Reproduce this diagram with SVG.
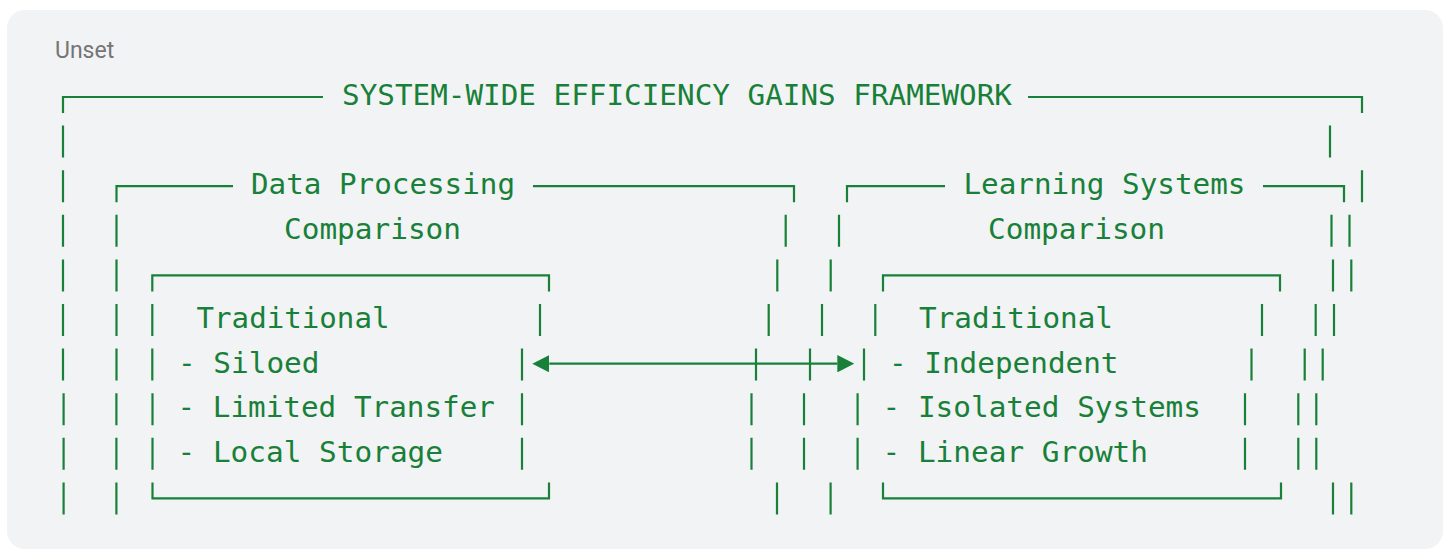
<svg xmlns="http://www.w3.org/2000/svg" width="1450" height="552" viewBox="0 0 1450 552">
<style>
.ln{fill:none;stroke:#188038;stroke-width:2.2}
.t{font-family:"DejaVu Sans Mono","Liberation Mono",monospace;font-size:29px;fill:#188038}
.lbl{font-family:Roboto,"Liberation Sans",sans-serif;font-size:23px;fill:#757575}
</style>
<defs>
<marker id="ah" viewBox="0 0 17 17.4" refX="0" refY="8.7" markerWidth="17" markerHeight="17.4" markerUnits="userSpaceOnUse" orient="auto-start-reverse">
<path d="M0,0 L17,8.7 L0,17.4 z" fill="#188038"/>
</marker>
</defs>
<rect x="0" y="0" width="1450" height="552" fill="#ffffff"/>
<rect x="7" y="10" width="1436" height="539" rx="18" fill="#f1f3f4"/>
<text class="lbl" x="55" y="58">Unset</text>

<g id="framework">
<path class="ln" d="M63,113 V97 H323 M1028,97 H1362 V113"/>
<text class="t" x="342" y="105" textLength="670" lengthAdjust="spacingAndGlyphs">SYSTEM-WIDE EFFICIENCY GAINS FRAMEWORK</text>
<path class="ln" d="M63,125.6 v32 M63,170.2 v32 M63,214.8 v32 M63,259.4 v32 M63,304 v32 M63,348.6 v32 M63.6,393.2 v32 M63.6,437.8 v32 M63.6,482.4 v32"/>
<path class="ln" d="M1330,125.6 v32 M1362,170.2 v32 M1349.5,214.8 v32 M1351.3,259.4 v32 M1334,304 v32 M1322.7,348.6 v32 M1316.3,393.2 v32 M1316.3,437.8 v32 M1351.3,482.4 v32"/>
</g>

<g id="data-processing">
<path class="ln" d="M116.5,202.2 V186.2 H233 M533,186.2 H794 V202.2"/>
<text class="t" x="251" y="194.2" textLength="264" lengthAdjust="spacingAndGlyphs">Data Processing</text>
<text class="t" x="284" y="238.8" textLength="177" lengthAdjust="spacingAndGlyphs">Comparison</text>
<path class="ln" d="M116.5,214.8 v32 M116.5,259.4 v32 M116.5,304 v32 M116.5,348.6 v32 M116.4,393.2 v32 M116.4,437.8 v32 M116.4,482.4 v32"/>
<path class="ln" d="M785.7,214.8 v32 M777.3,259.4 v32 M768.7,304 v32 M756,348.6 v32 M751.5,393.2 v32 M751.5,437.8 v32 M777,482.4 v32"/>
</g>

<g id="learning-systems">
<path class="ln" d="M847,202.2 V186.2 H945 M1263,186.2 H1344 V202.2"/>
<text class="t" x="963.5" y="194.2" textLength="282" lengthAdjust="spacingAndGlyphs">Learning Systems</text>
<text class="t" x="988" y="238.8" textLength="177" lengthAdjust="spacingAndGlyphs">Comparison</text>
<path class="ln" d="M839,214.8 v32 M830.7,259.4 v32 M822,304 v32 M810,348.6 v32 M804,393.2 v32 M804,437.8 v32 M830.6,482.4 v32"/>
<path class="ln" d="M1331.5,214.8 v32 M1333,259.4 v32 M1315.7,304 v32 M1304.7,348.6 v32 M1298.3,393.2 v32 M1298.3,437.8 v32 M1333,482.4 v32"/>
</g>

<g id="traditional-data">
<path class="ln" d="M152.3,291.4 V275.4 H549 V291.4 M152.5,482.4 V498.4 H549 V482.4"/>
<path class="ln" d="M152.3,304 v32 M152.3,348.6 v32 M152.5,393.2 v32 M152.5,437.8 v32"/>
<path class="ln" d="M540,304 v32 M522,348.6 v32 M522,393.2 v32 M522,437.8 v32"/>
<text class="t" x="196.5" y="328" textLength="193" lengthAdjust="spacingAndGlyphs">Traditional</text>
<text class="t" x="178" y="372.6" textLength="141.5" lengthAdjust="spacingAndGlyphs">- Siloed</text>
<text class="t" x="177.5" y="417.2" textLength="317.5" lengthAdjust="spacingAndGlyphs">- Limited Transfer</text>
<text class="t" x="177.5" y="461.8" textLength="265.5" lengthAdjust="spacingAndGlyphs">- Local Storage</text>
</g>

<g id="traditional-learning">
<path class="ln" d="M883,291.4 V275.4 H1280 V291.4 M883,482.4 V498.4 H1281 V482.4"/>
<path class="ln" d="M875.3,304 v32 M864,348.6 v32 M857.6,393.2 v32 M857.6,437.8 v32"/>
<path class="ln" d="M1262,304 v32 M1251.5,348.6 v32 M1245,393.2 v32 M1245,437.8 v32"/>
<text class="t" x="919" y="328" textLength="194" lengthAdjust="spacingAndGlyphs">Traditional</text>
<text class="t" x="889" y="372.6" textLength="229.5" lengthAdjust="spacingAndGlyphs">- Independent</text>
<text class="t" x="882.5" y="417.2" textLength="318.5" lengthAdjust="spacingAndGlyphs">- Isolated Systems</text>
<text class="t" x="882.5" y="461.8" textLength="265.5" lengthAdjust="spacingAndGlyphs">- Linear Growth</text>
</g>

<g id="connectors">
<line class="ln" x1="549.3" y1="363.7" x2="837.3" y2="363.7" marker-start="url(#ah)" marker-end="url(#ah)"/>
</g>
</svg>
